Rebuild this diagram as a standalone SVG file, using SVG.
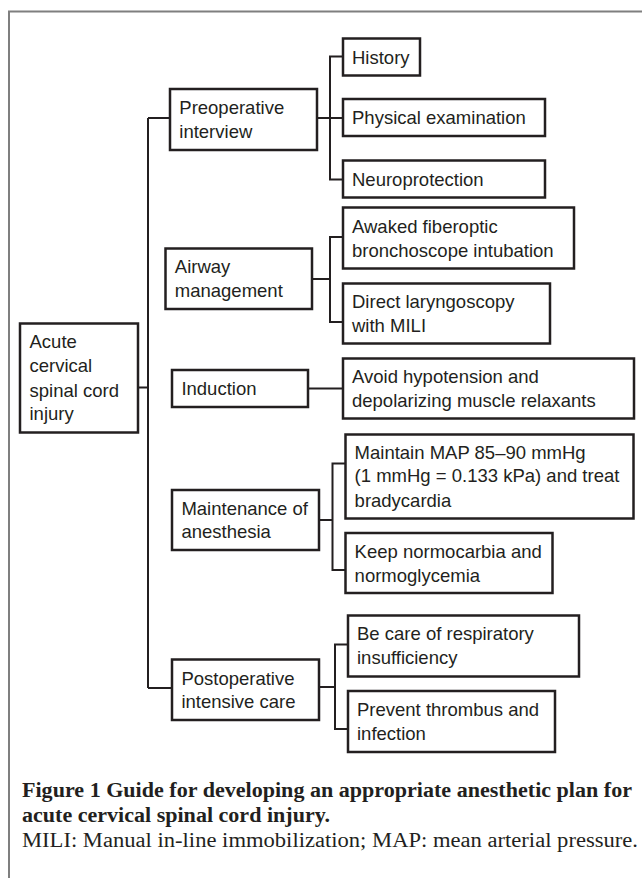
<svg xmlns="http://www.w3.org/2000/svg" width="642" height="878" viewBox="0 0 642 878">
<style>
.box{fill:#fff;stroke:#231f20;stroke-width:2.5}
.t{font-family:"Liberation Sans",Arial,sans-serif;font-size:18.5px;fill:#231f20}
.c{fill:none;stroke:#231f20;stroke-width:2}
.cap{font-family:"Liberation Serif","Times New Roman",serif;font-size:20.5px;fill:#231f20}
</style>
<rect width="642" height="878" fill="#fff"/>
<path d="M9,878 V11.5 H642" fill="none" stroke="#7f7f7f" stroke-width="2"/>
<g id="connectors">
<path class="c" d="M148,118 V688 M148,118 H170 M148,688 H172 M138,387.5 H148"/>
<path class="c" d="M317,118 H343 M343,56.5 H330 V179.5 H343"/>
<path class="c" d="M312,279 H330 M343,237 H330 V322 H343"/>
<path class="c" d="M308,388.5 H343"/>
<path class="c" d="M319,520 H332.5 M345.5,463.5 H332.5 V570 H345.5"/>
<path class="c" d="M319,687 H335 M348,644.5 H335 V729 H348"/>
</g>
<g id="acute"><rect class="box" x="20" y="323.5" width="118" height="109"/>
<text class="t" x="29.5" y="348.3">Acute</text><text class="t" x="29.5" y="372.3">cervical</text><text class="t" x="29.5" y="396.5">spinal cord</text><text class="t" x="29.5" y="420">injury</text></g>
<g id="preop"><rect class="box" x="170" y="89" width="147" height="61"/>
<text class="t" x="179.3" y="114.3">Preoperative</text><text class="t" x="179.3" y="137.7">interview</text></g>
<g id="history"><rect class="box" x="343" y="38.5" width="77" height="37"/>
<text class="t" x="352" y="64">History</text></g>
<g id="physical"><rect class="box" x="343" y="99" width="202" height="37"/>
<text class="t" x="352" y="124.3">Physical examination</text></g>
<g id="neuro"><rect class="box" x="343" y="160.5" width="202" height="37"/>
<text class="t" x="352" y="186">Neuroprotection</text></g>
<g id="airway"><rect class="box" x="165.5" y="248.5" width="146.5" height="60.5"/>
<text class="t" x="174.8" y="273.3">Airway</text><text class="t" x="174.8" y="296.7">management</text></g>
<g id="awaked"><rect class="box" x="343" y="207.5" width="231" height="61"/>
<text class="t" x="352" y="233.3">Awaked fiberoptic</text><text class="t" x="352" y="257.3">bronchoscope intubation</text></g>
<g id="direct"><rect class="box" x="343" y="283.5" width="207" height="60"/>
<text class="t" x="352" y="308.3">Direct laryngoscopy</text><text class="t" x="352" y="331.7">with MILI</text></g>
<g id="induction"><rect class="box" x="172" y="370" width="136" height="37"/>
<text class="t" x="181.4" y="395">Induction</text></g>
<g id="avoid"><rect class="box" x="343" y="358.5" width="291" height="60"/>
<text class="t" x="352" y="383.3">Avoid hypotension and</text><text class="t" x="352" y="406.7">depolarizing muscle relaxants</text></g>
<g id="maint"><rect class="box" x="172" y="490" width="147" height="60"/>
<text class="t" x="181.4" y="515">Maintenance of</text><text class="t" x="181.4" y="538.3">anesthesia</text></g>
<g id="map"><rect class="box" x="345.5" y="434.5" width="288" height="84"/>
<text class="t" x="354.6" y="459">Maintain MAP 85–90 mmHg</text><text class="t" x="354.6" y="482.3">(1 mmHg = 0.133 kPa) and treat</text><text class="t" x="354.6" y="506.7">bradycardia</text></g>
<g id="keep"><rect class="box" x="345.5" y="533" width="207" height="60"/>
<text class="t" x="354.6" y="558.3">Keep normocarbia and</text><text class="t" x="354.6" y="581.7">normoglycemia</text></g>
<g id="post"><rect class="box" x="172" y="659.5" width="147" height="60.5"/>
<text class="t" x="181.4" y="685">Postoperative</text><text class="t" x="181.4" y="708.3">intensive care</text></g>
<g id="becare"><rect class="box" x="348" y="615.5" width="231" height="61"/>
<text class="t" x="357" y="640">Be care of respiratory</text><text class="t" x="357" y="664">insufficiency</text></g>
<g id="prevent"><rect class="box" x="348" y="691" width="207" height="61"/>
<text class="t" x="357" y="715.7">Prevent thrombus and</text><text class="t" x="357" y="740">infection</text></g>
<g id="caption">
<text class="cap" font-weight="bold" x="22" y="797" textLength="610" lengthAdjust="spacingAndGlyphs">Figure 1 Guide for developing an appropriate anesthetic plan for</text>
<text class="cap" font-weight="bold" x="22" y="822" textLength="308" lengthAdjust="spacingAndGlyphs">acute cervical spinal cord injury.</text>
<text class="cap" x="22" y="847" textLength="616" lengthAdjust="spacingAndGlyphs">MILI: Manual in-line immobilization; MAP: mean arterial pressure.</text>
</g>
</svg>
